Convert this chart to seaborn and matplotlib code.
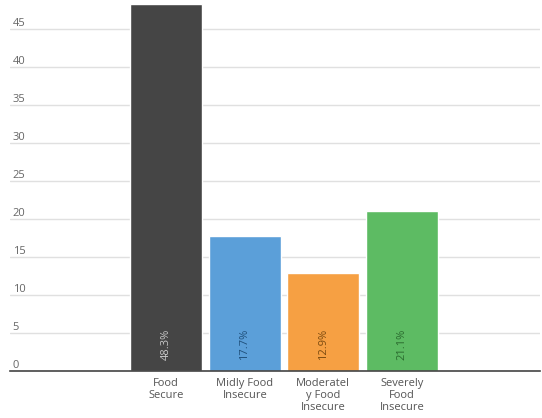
import matplotlib
matplotlib.use("Agg")
import matplotlib.pyplot as plt
import seaborn as sns
import pandas as pd

# Data
categories = ["Food\nSecure", "Midly Food\nInsecure", "Moderatel\ny Food\nInsecure", "Severely\nFood\nInsecure"]
values = [48.3, 17.7, 12.9, 21.1]
pct_labels = ["48.3%", "17.7%", "12.9%", "21.1%"]
colors = ["#454545", "#5b9fd9", "#f6a043", "#5dbb63"]
text_colors = ["#c8c8c8", "#1f4f7a", "#7a4a10", "#2a6a2e"]
yticks = [0, 5, 10, 15, 20, 25, 30, 35, 40, 45]

df = pd.DataFrame({"category": categories, "value": values})

sns.set_style("white")
plt.rcParams["font.family"] = ["Open Sans", "DejaVu Sans"]

fig = plt.figure(figsize=(5.42, 4.18), dpi=100)
ax = fig.add_axes([10 / 542, 1 - 371 / 418, 530 / 542, 371 / 418])

sns.barplot(data=df, x="category", y="value", hue="category", palette=colors,
            width=0.92, legend=False, ax=ax, saturation=1, zorder=3)

ax.set_xlim(-1.99, 4.76)
ax.set_ylim(0, 48.8)
ax.set_yticks(yticks)
ax.set_yticklabels([str(t) for t in yticks])
ax.yaxis.grid(True, color="#e0e0e0", linewidth=1.0, zorder=0)
ax.set_axisbelow(True)
for lab in ax.get_yticklabels():
    lab.set_horizontalalignment("left")
    lab.set_verticalalignment("bottom")
ax.tick_params(axis="y", length=0, pad=-2, labelsize=8, labelcolor="#666666")
ax.tick_params(axis="x", length=0, pad=5, labelsize=8, labelcolor="#555555")
ax.set_xlabel("")
ax.set_ylabel("")
for s in ["top", "right", "left"]:
    ax.spines[s].set_visible(False)
ax.spines["bottom"].set_color("#444444")
ax.spines["bottom"].set_linewidth(1.2)
ax.spines["bottom"].set_zorder(4)

for lab in ax.get_xticklabels():
    lab.set_linespacing(1.1)

for i, (p, c) in enumerate(zip(pct_labels, text_colors)):
    ax.text(i, 1.4, p, rotation=90, ha="center", va="bottom", fontsize=8, color=c, zorder=5)

fig.savefig("out.png", dpi=100)
